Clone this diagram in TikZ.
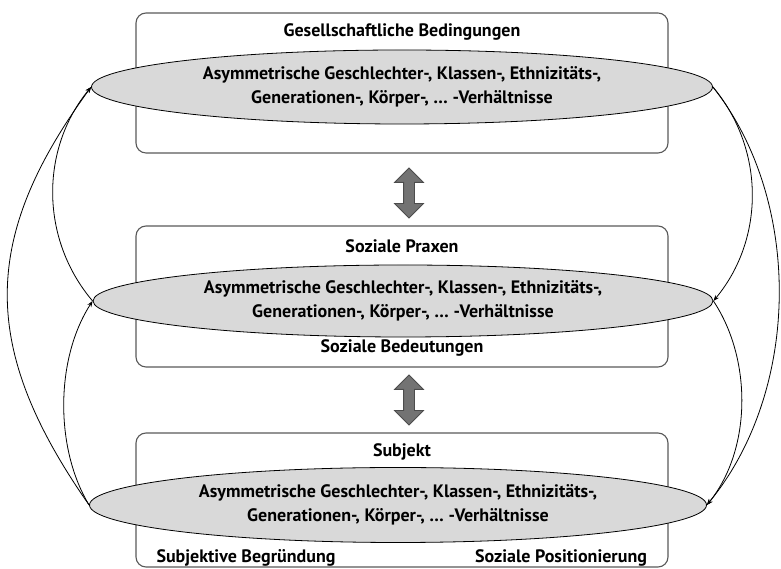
\documentclass[tikz,border=0pt]{standalone}
\usepackage{fontspec}
\setmainfont{PT Sans}
\usepackage{tikz}
\usetikzlibrary{shapes.geometric,shapes.arrows,arrows.meta}

\tikzset{
  stage/.style={draw=black!65,line width=1.1pt,rounded corners=10pt,minimum width=532pt},
  layer/.style={ellipse,draw=black,line width=0.8pt,fill=black!15,inner sep=0pt,
    minimum width=621pt,minimum height=74pt,align=center,
    font=\bfseries\fontsize{18}{24}\selectfont},
  title/.style={font=\bfseries\fontsize{18}{20}\selectfont,inner sep=1pt},
  updown/.style={double arrow,rotate=90,draw=black!70,fill=black!55,line width=0.8pt,
    minimum height=50pt,inner sep=5pt,double arrow head extend=9pt},
  flow/.style={line width=0.8pt,-{Stealth[length=6pt,width=4.5pt]}}
}

\begin{document}
\begin{tikzpicture}[x=1pt,y=1pt]
\useasboundingbox (0,0) rectangle (781,569);
% the three levels
\node[stage,minimum height=140pt] (box1) at (402,486) {};
\node[stage,minimum height=141pt] (box2) at (402,272.5) {};
\node[stage,minimum height=134pt] (box3) at (402,69) {};
\node[title] (t1) at (402,537) {Gesellschaftliche Bedingungen};
\node[title] (t2) at (402,323) {Soziale Praxen};
\node[title] (t2b) at (402,221) {Soziale Bedeutungen};
\node[title] (t3) at (402,117) {Subjekt};
\node[title] (t3a) at (246,11) {Subjektive Begründung};
\node[title] (t3b) at (561,11) {Soziale Positionierung};
% ellipses
\node[layer] (ell1) at (402,482) {Asymmetrische Geschlechter-, Klassen-, Ethnizitäts-,\\Generationen-, Körper-, \dots\ -Verhältnisse};
\node[layer,minimum width=620pt,minimum height=72pt] (ell2) at (403,268) {Asymmetrische Geschlechter-, Klassen-, Ethnizitäts-,\\Generationen-, Körper-, \dots\ -Verhältnisse};
\node[layer,minimum width=617pt,minimum height=75pt] (ell3) at (398,64) {Asymmetrische Geschlechter-, Klassen-, Ethnizitäts-,\\Generationen-, Körper-, \dots\ -Verhältnisse};
% between the levels
\node[updown] (a12) at (409,376) {};
\node[updown] (a23) at (409,169) {};
% left side, upwards
\draw[flow] (ell3.west) .. controls (-20,220) and (-20,330) .. (ell1.west);
\draw[flow] (ell2.west) .. controls (40,330) and (40,420) .. (ell1.west);
\draw[flow] (ell3.west) .. controls (55,120) and (55,210) .. (ell2.west);
% right side, downwards
\draw[flow] (ell1.east) .. controls (802,370) and (802,180) .. (ell3.east);
\draw[flow] (ell1.east) .. controls (765,420) and (765,330) .. (ell2.east);
\draw[flow] (ell2.east) .. controls (752,210) and (752,120) .. (ell3.east);
\end{tikzpicture}
\end{document}
